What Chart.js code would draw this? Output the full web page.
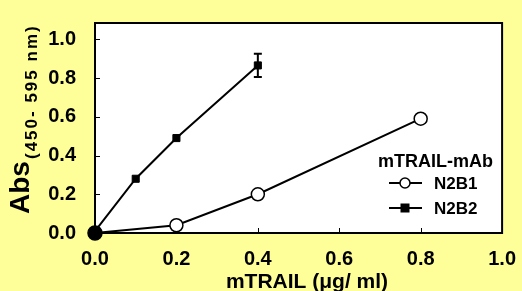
<!DOCTYPE html>
<html>
<head>
<meta charset="utf-8">
<script src="https://cdn.jsdelivr.net/npm/chart.js@4"></script>
<style>
  html, body { margin: 0; padding: 0; background: #FFFF99; }
  #wrap { width: 522px; height: 291px; }
</style>
</head>
<body>
<div id="wrap"><canvas id="myChart" width="522" height="291"></canvas></div>
<script>
// data
const n2b1X = [0, 0.2, 0.4, 0.8];
const n2b1Y = [0.0, 0.04, 0.20, 0.59];
const n2b2X = [0, 0.1, 0.2, 0.4];
const n2b2Y = [0.01, 0.28, 0.49, 0.865];
const n2b2Err = [0, 0, 0, 0.06];
const xTicks = [0, 0.2, 0.4, 0.6, 0.8, 1.0];
const yTicks = [0, 0.2, 0.4, 0.6, 0.8, 1.0];

const FONT = '"Liberation Sans", Arial, sans-serif';

function toPoints(xs, ys) {
    return xs.map((x, i) => ({ x: x, y: ys[i] }));
}

const decorations = {
    id: 'decorations',
    beforeDatasetsDraw(chart) {
        const c = chart.ctx;
        const a = chart.chartArea;
        const xs = chart.scales.x, ys = chart.scales.y;
        c.save();
        c.fillStyle = '#fff';
        c.fillRect(a.left, a.top, a.right - a.left, a.bottom - a.top);
        // inward ticks
        c.strokeStyle = '#000';
        c.lineWidth = 1;
        c.beginPath();
        yTicks.forEach(v => {
            const y = Math.round(ys.getPixelForValue(v)) + 0.5;
            c.moveTo(a.left, y); c.lineTo(a.left + 5, y);
        });
        xTicks.forEach(v => {
            const x = Math.round(xs.getPixelForValue(v)) + 0.5;
            c.moveTo(x, a.bottom); c.lineTo(x, a.bottom - 5);
        });
        c.stroke();
        c.lineWidth = 2;
        c.strokeRect(a.left, a.top, a.right - a.left, a.bottom - a.top);

        // error bars
        c.lineWidth = 2;
        n2b2Err.forEach((e, i) => {
            if (!e) return;
            const x = xs.getPixelForValue(n2b2X[i]);
            const y1 = ys.getPixelForValue(n2b2Y[i] + e);
            const y2 = ys.getPixelForValue(n2b2Y[i] - e);
            c.beginPath();
            c.moveTo(x, y1); c.lineTo(x, y2);
            c.moveTo(x - 4, y1); c.lineTo(x + 4, y1);
            c.moveTo(x - 4, y2); c.lineTo(x + 4, y2);
            c.stroke();
        });
        c.restore();
    },
    afterDraw(chart) {
        const c = chart.ctx;
        c.save();
        c.fillStyle = '#000';
        // y axis title
        c.translate(21, 214);
        c.rotate(-Math.PI / 2);
        c.textBaseline = 'middle';
        c.textAlign = 'left';
        c.font = 'bold 28px ' + FONT;
        c.fillText('Abs', 0, 0);
        c.font = 'bold 17px ' + FONT;
        c.letterSpacing = '2px';
        c.fillText('(450- 595 nm)', 55, 11);
        c.restore();

        // x axis title
        c.save();
        c.fillStyle = '#000';
        c.font = 'bold 21px ' + FONT;
        c.textAlign = 'center';
        c.textBaseline = 'middle';
        c.fillText('mTRAIL (\u03bcg/ ml)', 307, 282);

        // legend
        c.font = 'bold 18px ' + FONT;
        c.textAlign = 'left';
        c.fillText('mTRAIL-mAb', 378, 162);
        c.font = 'bold 17px ' + FONT;
        c.strokeStyle = '#000';
        c.lineWidth = 2;
        const items = [['N2B1', 183, 'circle'], ['N2B2', 208, 'rect']];
        items.forEach(it => {
            const y = it[1];
            c.beginPath();
            c.moveTo(389, y); c.lineTo(422, y);
            c.stroke();
            if (it[2] === 'circle') {
                c.beginPath();
                c.arc(405, y, 5, 0, Math.PI * 2);
                c.fillStyle = '#fff';
                c.fill();
                c.lineWidth = 1.5;
                c.stroke();
                c.lineWidth = 2;
            } else {
                c.fillStyle = '#000';
                c.fillRect(400.5, y - 4.5, 9, 9);
            }
            c.fillStyle = '#000';
            c.fillText(it[0], 434, y + 1);
        });
        c.restore();
    }
};

new Chart(document.getElementById('myChart'), {
    type: 'scatter',
    data: {
        datasets: [{
            label: 'N2B1',
            data: toPoints(n2b1X, n2b1Y),
            showLine: true,
            borderColor: '#000',
            borderWidth: 2,
            pointStyle: 'circle',
            pointRadius: [7, 6.5, 6.5, 6.5],
            pointBackgroundColor: ['#000', '#fff', '#fff', '#fff'],
            pointBorderColor: '#000',
            pointBorderWidth: 1.5,
            clip: false
        }, {
            label: 'N2B2',
            data: toPoints(n2b2X, n2b2Y),
            showLine: true,
            borderColor: '#000',
            borderWidth: 2,
            pointStyle: 'rect',
            pointRadius: 5,
            pointBackgroundColor: '#000',
            pointBorderColor: '#000',
            pointBorderWidth: 1,
            clip: false
        }]
    },
    options: {
        responsive: false,
        animation: false,
        layout: { padding: { top: 13, right: 17, left: 0, bottom: 0 } },
        plugins: {
            legend: { display: false },
            tooltip: { enabled: false }
        },
        scales: {
            x: {
                type: 'linear',
                min: 0,
                max: 1.0,
                afterFit(s) { s.height = 58; },
                afterBuildTicks(s) { s.ticks = xTicks.map(v => ({ value: v })); },
                grid: { display: false },
                border: { display: false },
                ticks: {
                    color: '#000',
                    font: { family: FONT, size: 20, weight: 'bold' },
                    padding: 6,
                    maxRotation: 0,
                    callback: v => v.toFixed(1)
                }
            },
            y: {
                type: 'linear',
                min: 0,
                max: 1.084,
                afterFit(s) { s.width = 95; },
                afterBuildTicks(s) { s.ticks = yTicks.map(v => ({ value: v })); },
                grid: { display: false },
                border: { display: false },
                ticks: {
                    color: '#000',
                    font: { family: FONT, size: 20, weight: 'bold' },
                    padding: 11,
                    callback: v => v.toFixed(1)
                }
            }
        }
    },
    plugins: [decorations]
});
</script>
</body>
</html>
